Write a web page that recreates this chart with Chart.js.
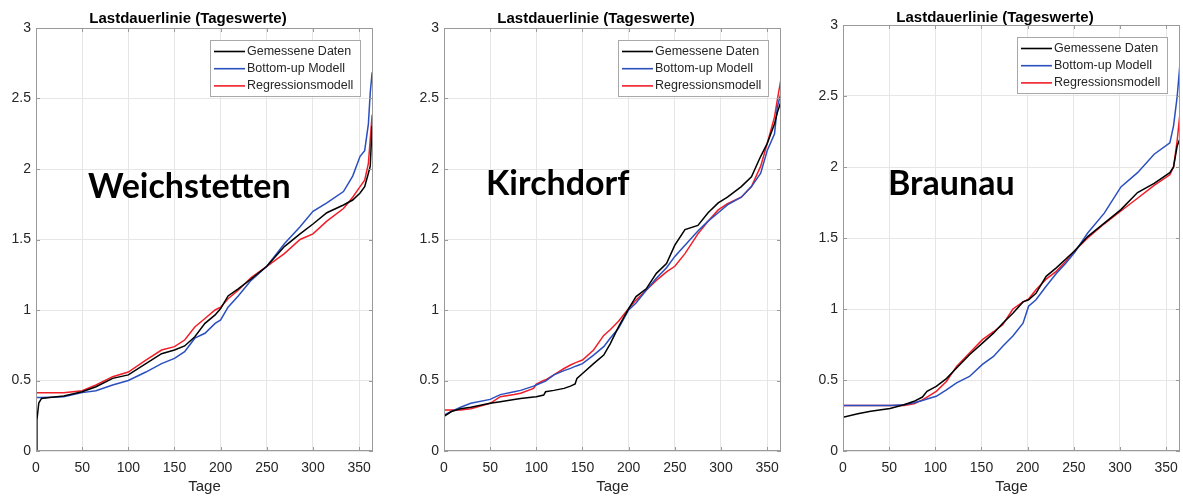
<!DOCTYPE html>
<html>
<head>
<meta charset="utf-8">
<script src="https://cdn.jsdelivr.net/npm/chart.js@4.4.1/dist/chart.umd.min.js"></script>
<style>
  html, body { margin: 0; padding: 0; background: #fff; overflow: hidden; }
  body { width: 1183px; height: 497px; position: relative; }
  canvas { position: absolute; top: 0; }
</style>
</head>
<body>
<canvas id="c1" width="380" height="497" style="left:0px"></canvas>
<canvas id="c2" width="380" height="497" style="left:408px"></canvas>
<canvas id="c3" width="380" height="497" style="left:807px"></canvas>
<script>
// ---- data ----
const seriesNames = ['Gemessene Daten', 'Bottom-up Modell', 'Regressionsmodell'];
const seriesColors = ['#000000', '#2a4fbf', '#f01e28'];
const xTicks = [0, 50, 100, 150, 200, 250, 300, 350];
const yTicks = [0, 0.5, 1, 1.5, 2, 2.5, 3];

// Weichstetten
const days1 = [0, 1, 3, 6, 15, 30, 50, 65, 83, 100, 119, 136, 150, 161, 172, 183, 194, 200, 208, 219, 233, 250, 269, 286, 300, 315, 333, 343, 351, 356, 360, 362, 364, 365];
const gem1 = [0, 0.22, 0.34, 0.373, 0.38, 0.39, 0.42, 0.456, 0.515, 0.54, 0.62, 0.69, 0.716, 0.745, 0.81, 0.905, 0.965, 1.01, 1.10, 1.15, 1.22, 1.31, 1.45, 1.54, 1.61, 1.69, 1.745, 1.78, 1.83, 1.875, 1.97, 2.02, 2.30, 2.30];
const bu1  = [0.38, 0.38, 0.38, 0.38, 0.382, 0.385, 0.414, 0.428, 0.468, 0.50, 0.56, 0.62, 0.657, 0.705, 0.80, 0.835, 0.905, 0.93, 1.02, 1.10, 1.21, 1.31, 1.47, 1.59, 1.70, 1.76, 1.84, 1.95, 2.09, 2.13, 2.32, 2.54, 2.68, 2.68];
const reg1 = [0.414, 0.414, 0.414, 0.414, 0.414, 0.414, 0.428, 0.468, 0.527, 0.56, 0.645, 0.716, 0.74, 0.787, 0.88, 0.94, 1.0, 1.02, 1.08, 1.14, 1.23, 1.31, 1.40, 1.50, 1.54, 1.63, 1.72, 1.80, 1.875, 1.92, 2.04, 2.21, 2.38, 2.38];

// Kirchdorf
const days2 = [0, 8, 18, 29, 50, 61, 76, 83, 97, 100, 108, 110, 119, 130, 137, 142, 144, 150, 162, 173, 180, 189, 200, 208, 219, 230, 241, 250, 261, 275, 286, 297, 307, 322, 333, 343, 350, 358, 361, 365];
const gem2 = [0.245, 0.28, 0.30, 0.31, 0.338, 0.35, 0.366, 0.372, 0.383, 0.385, 0.397, 0.42, 0.43, 0.444, 0.46, 0.475, 0.515, 0.55, 0.62, 0.68, 0.76, 0.88, 1.01, 1.095, 1.15, 1.26, 1.33, 1.46, 1.57, 1.60, 1.69, 1.76, 1.80, 1.875, 1.945, 2.09, 2.18, 2.32, 2.40, 2.48];
const bu2  = [0.255, 0.28, 0.31, 0.338, 0.366, 0.40, 0.42, 0.43, 0.46, 0.468, 0.49, 0.495, 0.54, 0.57, 0.586, 0.60, 0.605, 0.62, 0.68, 0.74, 0.80, 0.87, 1.0, 1.05, 1.14, 1.225, 1.30, 1.38, 1.46, 1.56, 1.63, 1.69, 1.745, 1.80, 1.875, 1.97, 2.13, 2.25, 2.44, 2.54];
const reg2 = [0.29, 0.29, 0.29, 0.30, 0.338, 0.385, 0.40, 0.41, 0.444, 0.475, 0.50, 0.505, 0.54, 0.585, 0.61, 0.625, 0.63, 0.645, 0.716, 0.82, 0.86, 0.92, 1.01, 1.07, 1.14, 1.21, 1.27, 1.31, 1.40, 1.54, 1.63, 1.71, 1.755, 1.80, 1.875, 2.02, 2.18, 2.37, 2.49, 2.64];

// Braunau
const days3 = [0, 16, 30, 51, 66, 77, 86, 91, 101, 112, 123, 137, 151, 163, 173, 184, 195, 201, 209, 220, 231, 241, 251, 265, 283, 301, 319, 337, 354, 358, 362, 365];
const gem3 = [0.237, 0.263, 0.28, 0.30, 0.326, 0.35, 0.38, 0.42, 0.455, 0.51, 0.584, 0.678, 0.76, 0.83, 0.90, 0.97, 1.05, 1.065, 1.11, 1.23, 1.29, 1.35, 1.41, 1.51, 1.605, 1.70, 1.82, 1.885, 1.96, 2.0, 2.15, 2.2];
const bu3  = [0.32, 0.32, 0.32, 0.32, 0.325, 0.34, 0.355, 0.366, 0.385, 0.43, 0.48, 0.525, 0.61, 0.666, 0.737, 0.81, 0.90, 1.02, 1.065, 1.16, 1.25, 1.32, 1.40, 1.535, 1.675, 1.86, 1.96, 2.09, 2.17, 2.29, 2.50, 2.73];
const reg3 = [0.32, 0.32, 0.32, 0.32, 0.32, 0.333, 0.36, 0.38, 0.42, 0.49, 0.596, 0.69, 0.784, 0.84, 0.89, 1.0, 1.05, 1.07, 1.135, 1.21, 1.265, 1.335, 1.41, 1.50, 1.60, 1.69, 1.78, 1.87, 1.945, 2.0, 2.19, 2.38];

const panels = [
  { id: 'c1', name: 'Weichstetten', days: days1, series: [gem1, bu1, reg1], titlePad: { top: 11.5, bottom: 1.5 }, nameX: 52, nameY: 198 },
  { id: 'c2', name: 'Kirchdorf',    days: days2, series: [gem2, bu2, reg2], titlePad: { top: 11.5, bottom: 1.5 }, nameX: 42, nameY: 195 },
  { id: 'c3', name: 'Braunau',      days: days3, series: [gem3, bu3, reg3], titlePad: { top: 10, bottom: 0 }, nameX: 45, nameY: 195 }
];

const txt = '#262626';

// axes box + inward tick marks like MATLAB
const boxPlugin = {
  id: 'box',
  afterDatasetsDraw(chart) {
    const { ctx, chartArea: a, scales: { x, y } } = chart;
    ctx.save();
    ctx.strokeStyle = '#9a9a9a';
    ctx.lineWidth = 1;
    ctx.strokeRect(a.left + 0.5, a.top + 0.5, a.right - a.left - 1, a.bottom - a.top - 1);
    ctx.beginPath();
    xTicks.forEach(v => {
      const px = Math.round(x.getPixelForValue(v)) + 0.5;
      ctx.moveTo(px, a.bottom); ctx.lineTo(px, a.bottom - 4);
      ctx.moveTo(px, a.top); ctx.lineTo(px, a.top + 4);
    });
    yTicks.forEach(v => {
      const py = Math.round(y.getPixelForValue(v)) + 0.5;
      ctx.moveTo(a.left, py); ctx.lineTo(a.left + 4, py);
      ctx.moveTo(a.right, py); ctx.lineTo(a.right - 4, py);
    });
    ctx.stroke();
    ctx.restore();
  },
  afterDraw(chart) {
    const { ctx, chartArea: a } = chart;
    const p = chart.options.plugins.box;
    // legend box
    const w = 150, h = 56;
    const bx = Math.round(a.right - 13 - w), by = Math.round(a.top + 12);
    ctx.save();
    ctx.fillStyle = '#fff';
    ctx.fillRect(bx, by, w, h);
    ctx.strokeStyle = '#a8a8a8';
    ctx.lineWidth = 1;
    ctx.strokeRect(bx + 0.5, by + 0.5, w, h);
    ctx.font = '12.5px "Liberation Sans", Arial, sans-serif';
    ctx.textBaseline = 'middle';
    chart.data.datasets.forEach((ds, i) => {
      const ly = by + 11.5 + i * 17.2;
      ctx.strokeStyle = ds.borderColor;
      ctx.lineWidth = 1.6;
      ctx.beginPath(); ctx.moveTo(bx + 4, ly); ctx.lineTo(bx + 35, ly); ctx.stroke();
      ctx.fillStyle = txt;
      ctx.fillText(ds.label, bx + 37, ly);
    });
    // big place name
    ctx.fillStyle = '#000';
    ctx.font = 'bold 34px Lato, "Open Sans", sans-serif';
    ctx.textBaseline = 'alphabetic';
    ctx.fillText(p.name, a.left + p.nameX, p.nameY);
    ctx.restore();
  }
};

panels.forEach(pn => {
  new Chart(document.getElementById(pn.id), {
    type: 'line',
    data: {
      datasets: pn.series.map((vals, i) => ({
        label: seriesNames[i],
        data: pn.days.map((d, k) => ({ x: d, y: vals[k] })),
        borderColor: seriesColors[i],
        borderWidth: 1.5,
        pointRadius: 0,
        tension: 0,
        fill: false
      }))
    },
    options: {
      responsive: false,
      animation: false,
      layout: { padding: { top: 0, right: 4, bottom: 0, left: 0 } },
      plugins: {
        legend: { display: false },
        tooltip: { enabled: false },
        title: {
          display: true,
          text: 'Lastdauerlinie (Tageswerte)',
          color: '#000',
          font: { family: '"Liberation Sans", Arial, sans-serif', size: 15, weight: 'bold', lineHeight: 1 },
          padding: pn.titlePad
        },
        box: { name: pn.name, nameX: pn.nameX, nameY: pn.nameY }
      },
      scales: {
        x: {
          type: 'linear',
          min: 0, max: 365,
          afterBuildTicks: s => { s.ticks = xTicks.map(v => ({ value: v })); },
          afterFit: s => { s.height = 46; },
          grid: { color: '#e6e6e6', drawTicks: false },
          border: { display: false },
          ticks: { color: txt, padding: 9, maxRotation: 0, font: { family: '"Liberation Sans", Arial, sans-serif', size: 14 } },
          title: { display: true, text: 'Tage', color: txt, padding: { top: 0, bottom: 1 },
                   font: { family: '"Liberation Sans", Arial, sans-serif', size: 15, lineHeight: 1.2 } }
        },
        y: {
          min: 0, max: 3,
          afterBuildTicks: s => { s.ticks = yTicks.map(v => ({ value: v })); },
          afterFit: s => { s.width = 36; },
          grid: { color: '#e6e6e6', drawTicks: false },
          border: { display: false },
          ticks: { color: txt, padding: 5, callback: v => String(v), font: { family: '"Liberation Sans", Arial, sans-serif', size: 14 } }
        }
      }
    },
    plugins: [boxPlugin]
  });
});
</script>
</body>
</html>
